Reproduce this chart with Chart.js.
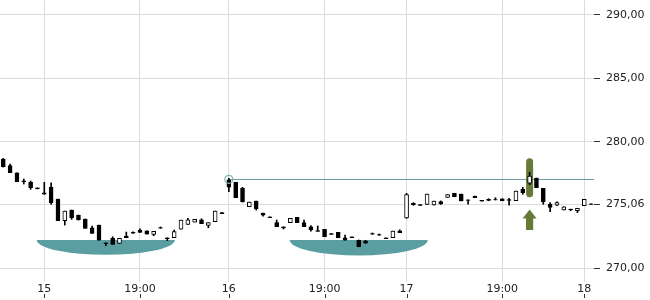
<!DOCTYPE html>
<html><head><meta charset="utf-8">
<script src="https://cdn.jsdelivr.net/npm/chart.js@4"></script>
<style>html,body{margin:0;padding:0;background:#fff;}#wrap{width:650px;height:300px;}</style>
</head><body><div id="wrap"><canvas id="c" width="650" height="300"></canvas></div>
<script>
// ---- data (candle index on a gapless intraday axis) ----
const candleIdx = [-6,-5,-4,-3,-2,-1,0,1,2,3,4,5,6,7,8,9,10,11,12,13,14,15,16,17,18,19,20,21,22,23,24,25,26,27,28,29,30,31,32,33,34,35,36,37,38,39,40,41,42,43,44,45,46,47,48,49,50,51,52,53,54,55,56,57,58,59,60,61,62,63,64,65,66,67,68,69,70,71,72,73,74,75,76,77,78,79,80];
const opens  = [278.63,278.11,277.55,276.92,276.82,276.36,275.97,276.42,275.48,273.76,274.61,274.21,273.90,273.21,273.42,272.03,272.38,271.98,272.56,272.84,273.03,272.97,272.69,273.23,272.42,272.42,273.09,273.48,273.66,273.84,273.40,273.69,274.40,277.00,276.80,276.32,274.87,275.32,274.37,274.07,273.61,273.28,273.61,274.03,273.61,273.29,272.98,273.09,272.75,272.85,272.42,272.49,272.24,272.16,272.76,272.68,272.41,272.42,272.97,273.98,275.14,275.03,275.06,275.02,275.27,275.61,275.93,275.87,275.42,275.71,275.37,275.46,275.43,275.50,275.43,275.34,276.24,276.72,277.13,276.32,275.06,275.00,274.61,274.68,274.55,274.95,275.10];
const highs  = [278.68,278.24,277.55,277.06,276.90,276.36,276.80,276.76,275.48,274.53,274.61,274.21,273.90,273.35,273.42,272.03,272.50,272.38,272.87,272.88,273.13,272.97,272.93,273.27,272.42,273.03,273.82,273.95,273.87,273.92,273.61,274.53,274.40,277.11,276.80,276.40,275.24,275.32,274.37,274.07,273.82,273.28,273.95,274.03,273.82,273.38,273.35,273.09,272.75,272.85,272.64,272.49,272.24,272.22,272.80,272.72,272.41,272.95,273.05,275.93,275.19,275.03,275.87,275.32,275.33,275.82,275.93,275.87,275.42,275.71,275.37,275.50,275.58,275.50,275.53,276.11,276.40,277.58,277.13,276.32,275.19,275.26,274.87,274.68,274.74,275.45,275.10];
const lows   = [278.00,277.55,276.84,276.66,276.24,276.28,275.85,275.06,273.76,273.42,273.87,273.82,273.16,272.77,272.24,271.79,271.90,271.98,272.42,272.77,272.85,272.71,272.58,273.16,272.19,272.42,273.09,273.48,273.66,273.53,273.21,273.69,274.32,276.05,275.58,275.24,274.87,274.61,274.13,274.00,273.29,273.11,273.61,273.61,273.29,272.95,272.93,272.50,272.68,272.42,272.24,272.42,271.71,271.98,272.69,272.61,272.35,272.42,272.82,273.95,274.98,274.97,275.06,275.00,275.05,275.61,275.66,275.32,275.08,275.58,275.31,275.34,275.40,275.34,275.00,275.34,275.85,276.61,276.37,275.06,274.47,274.95,274.61,274.55,274.40,274.95,275.06];
const closes = [278.03,277.55,276.84,276.84,276.37,276.28,275.85,275.19,273.76,274.53,274.00,273.82,273.16,272.77,272.24,271.95,271.90,272.38,272.42,272.78,272.85,272.71,272.93,273.17,272.34,272.90,273.82,273.84,273.87,273.53,273.61,274.53,274.32,276.42,275.58,275.24,275.24,274.69,274.21,274.00,273.29,273.20,273.95,273.61,273.29,273.03,272.93,272.50,272.68,272.42,272.24,272.42,271.71,272.00,272.70,272.62,272.35,272.95,272.82,275.82,275.04,274.97,275.87,275.32,275.10,275.82,275.66,275.32,275.36,275.58,275.31,275.36,275.40,275.34,275.37,276.11,275.97,277.29,276.37,275.26,274.82,275.19,274.87,274.63,274.74,275.45,275.06];

const xTickIdx    = [0, 14, 27, 41, 53, 67, 79];
const xTickLabels = ['15', '19:00', '16', '19:00', '17', '19:00', '18'];
const yTickValues = [270, 275.06, 280, 285, 290];

// pattern markers (bowl shapes) : from/to candle index, top/bottom price
const bowlFrom   = [-1.1, 35.9];
const bowlTo     = [19.1, 56.1];
const bowlTop    = [272.24, 272.24];
const bowlBottom = [271.08, 271.03];

// reference level line starting at a marked candle
const refIdx = 27;
const refLevel = 277.03;

// signal marker
const signalIdx = 71;
const signalHigh = 278.69;
const signalLow = 275.61;
const arrowTip = 274.66;
const arrowBase = 273.03;

// ---- chart ----
Chart.defaults.font.family = "'DejaVu Sans', sans-serif";
Chart.defaults.font.size = 11;
Chart.defaults.color = '#222';

const bodyData = candleIdx.map((x, i) => ({ x, y: [opens[i], closes[i]] }));
const wickData = candleIdx.map((x, i) => ({ x, y: [lows[i], highs[i]] }));
const bodyFill = candleIdx.map((x, i) => closes[i] >= opens[i] ? '#ffffff' : '#000000');

const TEAL = '#5a9ea2';
const GREEN = '#677a38';

function pill(ctx, x1, y1, x2, y2) {
  const r = (x2 - x1) / 2;
  ctx.beginPath();
  ctx.moveTo(x1, y1 + r);
  ctx.arc(x1 + r, y1 + r, r, Math.PI, 0);
  ctx.lineTo(x2, y2 - r);
  ctx.arc(x1 + r, y2 - r, r, 0, Math.PI);
  ctx.closePath();
  ctx.fill();
}

const overlay = {
  id: 'overlay',
  beforeDatasetsDraw(chart) {
    const { ctx, scales: { x, y }, chartArea } = chart;
    ctx.save();
    // reference line
    ctx.strokeStyle = '#6f9f9f';
    ctx.lineWidth = 1;
    const ly = Math.round(y.getPixelForValue(refLevel)) + 0.5;
    ctx.beginPath();
    ctx.moveTo(x.getPixelForValue(refIdx), ly);
    ctx.lineTo(chartArea.right, ly);
    ctx.stroke();
    // bowls
    ctx.fillStyle = TEAL;
    for (let i = 0; i < bowlFrom.length; i++) {
      const x1 = x.getPixelForValue(bowlFrom[i]);
      const x2 = x.getPixelForValue(bowlTo[i]);
      const yt = y.getPixelForValue(bowlTop[i]);
      const yb = y.getPixelForValue(bowlBottom[i]);
      ctx.beginPath();
      ctx.ellipse((x1 + x2) / 2, yt, (x2 - x1) / 2, yb - yt, 0, 0, Math.PI);
      ctx.closePath();
      ctx.fill();
    }
    // signal pill
    const sx = x.getPixelForValue(signalIdx);
    ctx.fillStyle = GREEN;
    pill(ctx, sx - 3.5, y.getPixelForValue(signalHigh), sx + 3.5, y.getPixelForValue(signalLow));
    // arrow
    const ty = y.getPixelForValue(arrowTip);
    const by = y.getPixelForValue(arrowBase);
    ctx.beginPath();
    ctx.moveTo(sx, ty);
    ctx.lineTo(sx + 7, ty + 9);
    ctx.lineTo(sx + 3.6, ty + 9);
    ctx.lineTo(sx + 3.6, by);
    ctx.lineTo(sx - 3.6, by);
    ctx.lineTo(sx - 3.6, ty + 9);
    ctx.lineTo(sx - 7, ty + 9);
    ctx.closePath();
    ctx.fill();
    ctx.restore();
  },
  afterDatasetsDraw(chart) {
    const { ctx, scales: { x, y } } = chart;
    ctx.save();
    ctx.strokeStyle = '#7fb3b5';
    ctx.lineWidth = 1.2;
    ctx.beginPath();
    ctx.arc(x.getPixelForValue(refIdx), y.getPixelForValue(refLevel), 4, 0, Math.PI * 2);
    ctx.stroke();
    ctx.restore();
  },
  afterDraw(chart) {
    const { ctx, scales: { x } } = chart;
    ctx.save();
    ctx.strokeStyle = '#333';
    ctx.lineWidth = 1;
    xTickIdx.forEach(v => {
      const px = Math.round(x.getPixelForValue(v)) + 0.5;
      ctx.beginPath();
      ctx.moveTo(px, 294);
      ctx.lineTo(px, 298);
      ctx.stroke();
    });
    ctx.restore();
  }
};

new Chart(document.getElementById('c'), {
  type: 'bar',
  data: {
    datasets: [
      { data: wickData, backgroundColor: '#000', barThickness: 1, grouped: false, order: 2 },
      { data: bodyData, backgroundColor: bodyFill, borderColor: '#000', borderWidth: 1,
        borderSkipped: false, barThickness: 4, grouped: false, order: 1 }
    ]
  },
  options: {
    responsive: false,
    animation: false,
    events: [],
    layout: { padding: 0 },
    plugins: { legend: { display: false }, tooltip: { enabled: false } },
    scales: {
      x: {
        type: 'linear', min: -6.48, max: 80.42, offset: false,
        grid: { color: '#dcdcdc', drawTicks: false, offset: false },
        border: { display: false },
        afterBuildTicks: s => { s.ticks = xTickIdx.map(v => ({ value: v })); },
        ticks: { callback: (v, i) => xTickLabels[i], padding: 1, maxRotation: 0, autoSkip: false, color: '#222' },
        afterFit: s => { s.height = 18; s.paddingLeft = 0; s.paddingRight = 0; }
      },
      y: {
        position: 'right', min: 268.93, max: 291.18,
        grid: { color: '#dcdcdc', tickColor: '#333', tickLength: 6 },
        border: { display: false },
        afterBuildTicks: s => { s.ticks = yTickValues.map(v => ({ value: v })); },
        ticks: { callback: v => v.toFixed(2).replace('.', ','), padding: 6, color: '#222' },
        afterFit: s => { s.width = 56; s.paddingTop = 0; s.paddingBottom = 0; }
      }
    }
  },
  plugins: [overlay]
});
</script>
</body></html>
